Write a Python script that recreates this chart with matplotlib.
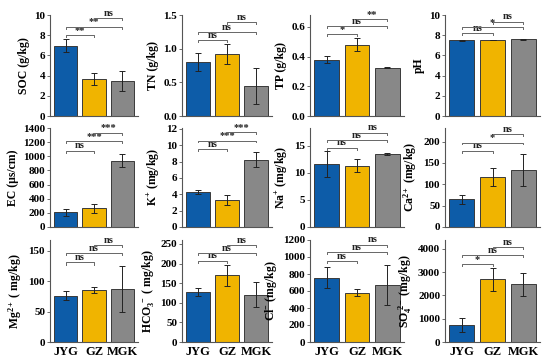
import matplotlib
matplotlib.use("Agg")
import matplotlib.pyplot as plt

plt.rcParams['font.family'] = ['Liberation Serif', 'DejaVu Serif']
plt.rcParams['font.weight'] = 'bold'
plt.rcParams['mathtext.fontset'] = 'custom'
plt.rcParams['mathtext.rm'] = 'Liberation Serif:bold'
plt.rcParams['mathtext.it'] = 'Liberation Serif:bold'
plt.rcParams['mathtext.bf'] = 'Liberation Serif:bold'

sites = ['JYG', 'GZ', 'MGK']
colors = ['#0d5ca8', '#f0b400', '#888888']

labels = ['SOC (g/kg)', 'TN (g/kg)', 'TP (g/kg)', 'pH',
          'EC (μs/cm)', 'K$^{+}$ (mg/kg)', 'Na$^{+}$ (mg/kg)', 'Ca$^{2+}$ (mg/kg)',
          'Mg$^{2+}$ ( mg/kg)', 'HCO$_3^{\\ -}$ ( mg/kg)', 'Cl$^{-}$ (mg/kg)', 'SO$_4^{\\ 2-}$ (mg/kg)']

soc = [6.95, 3.65, 3.5]
soc_err = [0.65, 0.6, 1.0]
tn = [0.80, 0.92, 0.45]
tn_err = [0.13, 0.15, 0.27]
tp = [0.38, 0.48, 0.325]
tp_err = [0.025, 0.045, 0.004]
ph = [7.5, 7.52, 7.6]
ph_err = [0.04, 0.03, 0.04]
ec = [210, 265, 940]
ec_err = [50, 60, 95]
k = [4.3, 3.35, 8.25]
k_err = [0.28, 0.6, 0.9]
na = [11.6, 11.3, 13.5]
na_err = [2.4, 1.2, 0.25]
ca = [65, 118, 133]
ca_err = [11, 21, 37]
mg = [76, 86, 87]
mg_err = [7.5, 5, 38]
hco3 = [127, 170, 120]
hco3_err = [11, 26, 32]
cl = [758, 580, 672]
cl_err = [128, 38, 232]
so4 = [730, 2700, 2480]
so4_err = [300, 490, 495]

values = [soc, tn, tp, ph, ec, k, na, ca, mg, hco3, cl, so4]
errors = [soc_err, tn_err, tp_err, ph_err, ec_err, k_err, na_err, ca_err,
          mg_err, hco3_err, cl_err, so4_err]

ylims = [10, 1.5, 0.68, 10, 1400, 12.1, 18.3, 232, 168, 260, 1200, 4380]
yticks = [[0, 2, 4, 6, 8, 10], [0.0, 0.5, 1.0, 1.5], [0.0, 0.2, 0.4, 0.6],
          [0, 2, 4, 6, 8, 10], list(range(0, 1401, 200)), [0, 2, 4, 6, 8, 10, 12],
          [0, 5, 10, 15], [0, 50, 100, 150, 200], [0, 50, 100, 150],
          [0, 50, 100, 150, 200, 250], list(range(0, 1201, 200)),
          [0, 1000, 2000, 3000, 4000]]
tickfmt = ['{:.0f}', '{:.1f}', '{:.1f}', '{:.0f}', '{:.0f}', '{:.0f}',
           '{:.0f}', '{:.0f}', '{:.0f}', '{:.0f}', '{:.0f}', '{:.0f}']

# brackets: (i, j, height, label)
sig = [
    [(0, 1, 8.0, '**'), (0, 2, 8.83, '**'), (1, 2, 9.67, 'ns')],
    [(0, 1, 1.13, 'ns'), (0, 2, 1.25, 'ns'), (1, 2, 1.39, 'ns')],
    [(0, 1, 0.55, '*'), (0, 2, 0.604, 'ns'), (1, 2, 0.653, '**')],
    [(0, 1, 8.18, 'ns'), (0, 2, 8.77, '*'), (1, 2, 9.34, 'ns')],
    [(0, 1, 1080, 'ns'), (0, 2, 1212, '***'), (1, 2, 1334, '***')],
    [(0, 1, 9.5, 'ns'), (0, 2, 10.57, '***'), (1, 2, 11.6, '***')],
    [(0, 1, 14.67, 'ns'), (0, 2, 16.0, 'ns'), (1, 2, 17.45, 'ns')],
    [(0, 1, 179, 'ns'), (0, 2, 198, '*'), (1, 2, 217, 'ns')],
    [(0, 1, 131, 'ns'), (0, 2, 146, 'ns'), (1, 2, 160, 'ns')],
    [(0, 1, 207, 'ns'), (0, 2, 227, 'ns'), (1, 2, 247, 'ns')],
    [(0, 1, 955, 'ns'), (0, 2, 1054, 'ns'), (1, 2, 1145, 'ns')],
    [(0, 1, 3347, '*'), (0, 2, 3743, 'ns'), (1, 2, 4082, 'ns')],
]

W, H = 550, 363
fig = plt.figure(figsize=(5.5, 3.63), dpi=100)
col_l = [50, 182, 310, 445]
col_r = [138, 272, 404, 540]
row_t = [15, 128, 240]
row_b = [116, 227, 342]

for n in range(12):
    r, c = n // 4, n % 4
    ax = fig.add_axes([col_l[c] / W, 1 - row_b[r] / H,
                       (col_r[c] - col_l[c]) / W, (row_b[r] - row_t[r]) / H])
    vals, errs = values[n], errors[n]
    x = range(3)
    ax.bar(x, vals, width=0.82, color=colors, edgecolor='#3a3a3a', linewidth=0.7, zorder=2)
    ax.errorbar(x, vals, yerr=errs, fmt='none', ecolor='#222222', elinewidth=0.7,
                capsize=2, capthick=0.7, zorder=3)
    ax.set_xlim(-0.55, 2.55)
    ax.set_ylim(0, ylims[n])
    ax.set_yticks(yticks[n])
    ax.set_yticklabels([tickfmt[n].format(t) for t in yticks[n]], fontsize=8, fontweight='bold')
    ax.set_ylabel(labels[n], fontsize=8.5, fontweight='bold', labelpad=3)
    for s in ['top', 'right']:
        ax.spines[s].set_visible(False)
    for s in ['left', 'bottom']:
        ax.spines[s].set_color('#555555')
        ax.spines[s].set_linewidth(0.8)
    ax.tick_params(axis='y', length=2, width=0.6, pad=1.5, color='#555555')
    ax.tick_params(axis='x', length=0, pad=3)
    ax.set_xticks(list(x))
    if r == 2:
        ax.set_xticklabels(sites, fontsize=9, fontweight='bold')
    else:
        ax.set_xticklabels([])
    yr = ylims[n]
    for i, j, h, lab in sig[n]:
        d = yr * 0.02
        ax.plot([i, i, j, j], [h - d, h, h, h - d], color='#666666', lw=0.7,
                clip_on=False, zorder=4)
        ax.text((i + j) / 2, h + yr * 0.003, lab, ha='center', va='bottom',
                fontsize=7.5, fontweight='bold', color='#222222', clip_on=False)

fig.savefig('out.png', dpi=100)
